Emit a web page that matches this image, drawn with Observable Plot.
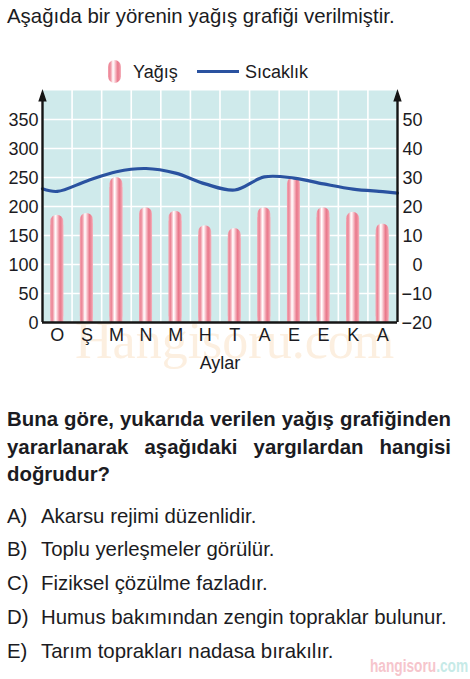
<!DOCTYPE html>
<html>
<head>
<meta charset="utf-8">
<script src="https://cdn.jsdelivr.net/npm/d3@7"></script>
<script src="https://cdn.jsdelivr.net/npm/@observablehq/plot@0.6"></script>
<style>
  body { margin:0; width:470px; height:679px; position:relative; background:#fff; overflow:hidden;
         font-family:"Liberation Sans", Arial, Helvetica, sans-serif; color:#1b1b22; }
  .abs { position:absolute; white-space:nowrap; }
  #title { left:7px; top:4px; font-size:20.4px; line-height:24px; }
  .legtxt { font-size:18px; line-height:20px; top:62px; }
  #swRain { left:108px; top:60px; width:12.7px; height:23px; border-radius:6.5px;
    background:linear-gradient(to right,#f3a3b0 0%,#ec8495 15%,#f7c3cb 28%,#ffffff 38%,#fde3e7 48%,#f4b0bb 60%,#e9788b 75%,#ee8e9e 88%,#f5b3bd 100%); }
  #swTemp { left:197px; top:70.4px; width:42px; height:2.7px; background:#2a52a0; }
  #wm { left:75px; top:315px; font-family:"Liberation Serif", "DejaVu Serif", serif; font-size:52px; line-height:52px; color:#fcefe0; }
  #chartBox { left:0; top:84px; }
  #question { left:7px; top:406px; width:444px; font-size:20.4px; line-height:27.5px; font-weight:bold; text-align:justify; white-space:normal; }
  .opt { left:0; font-size:20.4px; line-height:24px; width:470px; height:24px; }
  .opt .l { position:absolute; left:7px; }
  .opt .t { position:absolute; left:41px; }
  #wm2 { left:370px; top:656px; font-family:"Liberation Sans", Arial, sans-serif; font-weight:bold; font-size:18px; line-height:20px; transform:scaleX(0.76); transform-origin:left top; }
</style>
</head>
<body>
<div id="title" class="abs">Aşağıda bir yörenin yağış grafiği verilmiştir.</div>

<div id="swRain" class="abs"></div>
<div class="abs legtxt" style="left:133px">Yağış</div>
<div id="swTemp" class="abs"></div>
<div class="abs legtxt" style="left:245px">Sıcaklık</div>

<div id="wm" class="abs">Hangisoru.com</div>
<div id="chartBox" class="abs"></div>

<div id="question" class="abs">Buna göre, yukarıda verilen yağış grafiğinden yararlanarak aşağıdaki yargılardan hangisi doğrudur?</div>

<div id="options"></div>

<div id="wm2" class="abs"><span style="color:#f6c5cc">hangisoru</span><span style="color:#c6eae7">.com</span></div>

<script>
// ---- data ----
const months = ["O","Ş","M","N","M","H","T","A","E","E","K","A"];
const rainfall = [185, 188, 250, 198, 192, 167, 162, 198, 250, 198, 190, 170];        // Yağış (mm), left axis
const temperature = [25.2, 28.8, 32.0, 33.1, 31.5, 27.8, 25.7, 30.2, 29.8, 27.8, 26.0, 25.1]; // Sıcaklık (°C), right axis
const tempAtLeftEdge = 26.1;
const tempAtRightEdge = 24.6;
const rainTicks = [0, 50, 100, 150, 200, 250, 300, 350];
const tempTicks = [-20, -10, 0, 10, 20, 30, 40, 50];
const optionLetters = ["A)", "B)", "C)", "D)", "E)"];
const optionTexts = [
  "Akarsu rejimi düzenlidir.",
  "Toplu yerleşmeler görülür.",
  "Fiziksel çözülme fazladır.",
  "Humus bakımından zengin topraklar bulunur.",
  "Tarım toprakları nadasa bırakılır."
];

// right axis (°C) aligned to left axis (mm): -20 ↔ 0, 50 ↔ 350
const toRain = t => (t + 20) * 5;

const rows = months.map((m, i) => ({i, m, rain: rainfall[i], temp: temperature[i]}));
const tempLine = [
  {x: 0, t: tempAtLeftEdge},
  ...rows.map(r => ({x: r.i + 0.5, t: r.temp})),
  {x: months.length, t: tempAtRightEdge}
];
const axisEnds = [{x: 0}, {x: months.length}];

// filled, narrow arrowhead whose tip sits at the symbol's anchor
const arrowHead = {
  draw(ctx) {
    ctx.moveTo(0, -1.5);
    ctx.lineTo(4.2, 11);
    ctx.lineTo(-4.2, 11);
    ctx.closePath();
  }
};

const barOpts = {x1: "i", x2: d => d.i + 1, y1: 0, y2: "rain", insetLeft: 8.3, insetRight: 8.3, fill: "url(#barGrad)"};
const ink = "#151515";

const chart = Plot.plot({
  width: 470, height: 294,
  marginTop: 6, marginRight: 73, marginBottom: 56, marginLeft: 42,
  x: {domain: [0, months.length], axis: null},
  y: {domain: [0, 400], axis: null},
  style: {fontFamily: '"Liberation Sans", Arial, sans-serif', fontSize: "18px", color: "#1b1b22", background: "transparent", overflow: "visible"},
  marks: [
    Plot.frame({fill: "#cfeaeb", stroke: "none"}),
    Plot.ruleX(d3.range(1, months.length), {stroke: "white", strokeWidth: 1.6}),
    Plot.ruleY(rainTicks.filter(v => v > 0), {stroke: "white", strokeWidth: 1.6}),
    Plot.rect(rows, {...barOpts, rx: 6.5}),
    Plot.rect(rows, {...barOpts, insetTop: 10}),
    Plot.line(tempLine, {x: "x", y: d => toRain(d.t), stroke: "#2a52a0", strokeWidth: 3.2, curve: "catmull-rom"}),
    Plot.ruleY([0], {stroke: ink, strokeWidth: 2.6}),
    Plot.ruleX(axisEnds, {x: "x", y1: 0, y2: 394, stroke: ink, strokeWidth: 2.4}),
    Plot.dot(axisEnds, {x: "x", y: 400, symbol: arrowHead, r: 5, fill: ink, stroke: "none"}),
    Plot.text(rainTicks, {y: d => d, text: d => String(d), frameAnchor: "left", textAnchor: "end", dx: -4, dy: 1}),
    Plot.text(tempTicks.filter(t => t >= 0), {y: toRain, text: t => String(t), frameAnchor: "right", textAnchor: "end", dx: 25, dy: 1}),
    Plot.text(tempTicks.filter(t => t < 0), {y: toRain, text: t => "\u2212" + Math.abs(t), frameAnchor: "right", textAnchor: "start", dx: 4, dy: 1}),
    Plot.text(rows, {x: d => d.i + 0.5, text: "m", frameAnchor: "bottom", lineAnchor: "middle", dy: 13}),
    Plot.text(["Aylar"], {text: d => d, frameAnchor: "bottom", lineAnchor: "middle", dy: 41})
  ]
});

// defs: bar stripe gradient
const svg = d3.select(chart);
const defs = svg.insert("defs", ":first-child");
const grad = defs.append("linearGradient").attr("id", "barGrad")
  .attr("x1", "0").attr("x2", "1").attr("y1", "0").attr("y2", "0");
[["0%","#f3a3b0"],["15%","#ec8495"],["28%","#f7c3cb"],["38%","#ffffff"],["48%","#fde3e7"],
 ["60%","#f4b0bb"],["75%","#e9788b"],["88%","#ee8e9e"],["100%","#f5b3bd"]]
  .forEach(([o, c]) => grad.append("stop").attr("offset", o).attr("stop-color", c));

document.getElementById("chartBox").appendChild(chart);

// options list
const optBox = document.getElementById("options");
optionLetters.forEach((l, k) => {
  const div = document.createElement("div");
  div.className = "abs opt";
  div.style.top = (503.5 + k * 33.95) + "px";
  div.innerHTML = `<span class="l">${l}</span><span class="t">${optionTexts[k]}</span>`;
  optBox.appendChild(div);
});
</script>
</body>
</html>
